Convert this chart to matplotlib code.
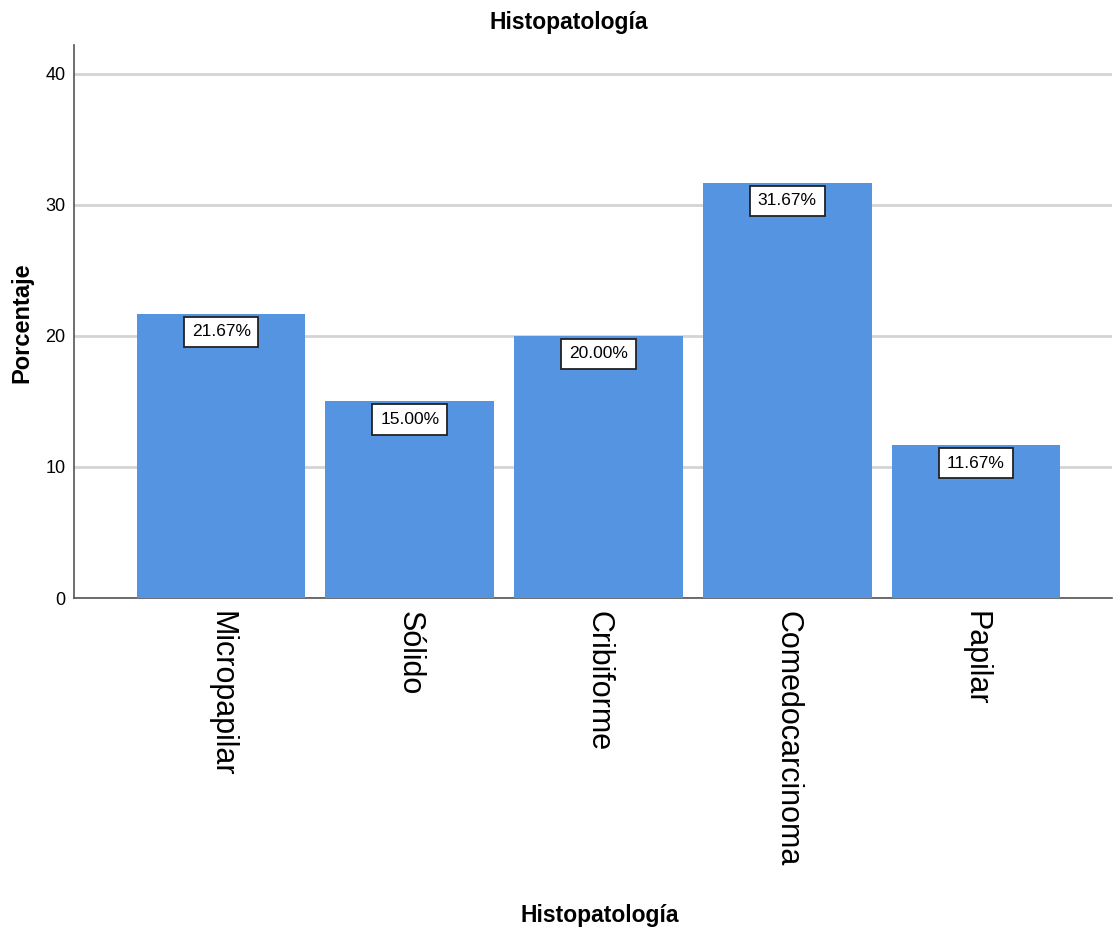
import matplotlib
matplotlib.use("Agg")
import matplotlib.pyplot as plt
import numpy as np

categorias = ["Micropapilar", "Sólido", "Cribiforme", "Comedocarcinoma", "Papilar"]
porcentajes = [21.67, 15.00, 20.00, 31.67, 11.67]
yticks = [0, 10, 20, 30, 40]

fuente = ["Liberation Sans", "DejaVu Sans"]

fig = plt.figure(figsize=(11.14, 9.34), dpi=100)
ax = fig.add_axes([0.0664, 0.3597, 0.9316, 0.5921])

x = np.arange(len(categorias))
ax.bar(x, porcentajes, width=0.894, color="#5594E1", zorder=3)

# etiquetas de valor en recuadro blanco bajo el borde de cada barra
for xi, v in zip(x, porcentajes):
    ax.annotate(f"{v:.2f}%", (xi, v), xytext=(0, -7.5), textcoords="offset points",
                ha="center", va="top", fontsize=12.5, family=fuente, zorder=5,
                bbox=dict(boxstyle="square,pad=0.45", fc="white", ec="#222222", lw=1.3))

ax.set_xlim(-0.78, 4.72)
ax.set_ylim(0, 42.2)
ax.set_yticks(yticks)
ax.set_yticklabels([str(t) for t in yticks], family=fuente, fontsize=13)
ax.set_xticks(x)
ax.set_xticklabels(categorias, rotation=-90, fontsize=22, family=fuente, va="top")
ax.tick_params(axis="both", length=0, pad=6)
ax.tick_params(axis="x", pad=9)

ax.grid(axis="y", color="#d4d4d4", lw=2, zorder=0)
for s in ["top", "right"]:
    ax.spines[s].set_visible(False)
for s in ["left", "bottom"]:
    ax.spines[s].set_color("#555555")
    ax.spines[s].set_linewidth(1.2)

fig.text(0.5102, 0.976, "Histopatología", ha="center", va="center",
         fontsize=16.5, fontweight="bold", family=fuente)
fig.text(0.5380, 0.020, "Histopatología", ha="center", va="center",
         fontsize=16.5, fontweight="bold", family=fuente)
fig.text(0.020, 0.655, "Porcentaje", ha="center", va="center", rotation=90,
         fontsize=17, fontweight="bold", family=fuente)

fig.savefig("out.png", dpi=100)
